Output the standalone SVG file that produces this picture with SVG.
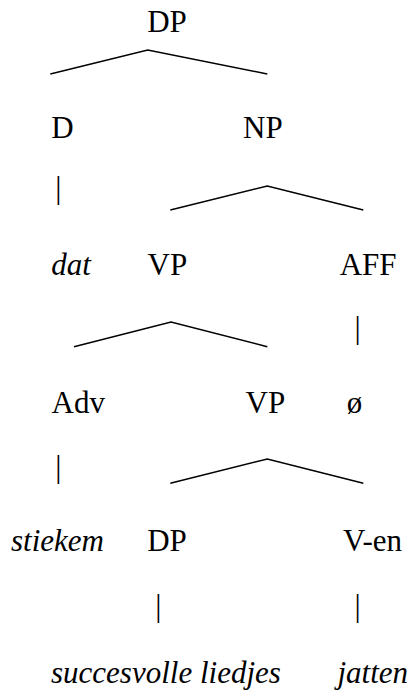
<svg xmlns="http://www.w3.org/2000/svg" width="414" height="696" viewBox="0 0 414 696">
<style>
text{font-family:"Liberation Serif","Times New Roman",serif;font-size:31px;fill:#000}
.i{font-style:italic}
.e{fill:none;stroke:#000;stroke-width:1.5}
</style>
<rect width="414" height="696" fill="#fff"/>
<g id="n-dp"><text x="147.2" y="31.7">DP</text></g>
<g id="n-d"><text x="51.2" y="137.7">D</text><text x="55.2" y="198.3">|</text></g>
<g id="n-np"><text x="243" y="137.7">NP</text></g>
<g id="n-dat"><text class="i" x="51.2" y="275">dat</text></g>
<g id="n-vp1"><text x="147.5" y="275">VP</text></g>
<g id="n-aff"><text x="339.7" y="275">AFF</text><text x="354.6" y="337.6">|</text></g>
<g id="n-adv"><text x="51.5" y="412.7">Adv</text><text x="55.2" y="476.5">|</text></g>
<g id="n-vp2"><text x="245.5" y="412.7">VP</text></g>
<g id="n-null"><text x="346.7" y="412.7">ø</text></g>
<g id="n-stiekem"><text class="i" x="11" y="550.7">stiekem</text></g>
<g id="n-dp2"><text x="147.2" y="550.7">DP</text><text x="155.2" y="615.8">|</text></g>
<g id="n-ven"><text x="343" y="550.7">V-en</text><text x="354.6" y="615.8">|</text></g>
<g id="n-liedjes"><text class="i" x="51" y="683.3">succesvolle liedjes</text></g>
<g id="n-jatten"><text class="i" x="337.5" y="683.3">jatten</text></g>
<g id="edges">
<polyline class="e" points="50.3,74 147.7,50 267.3,74"/>
<polyline class="e" points="170.3,210 267.3,186 363.3,210"/>
<polyline class="e" points="74,346.7 171,322 267.3,346.7"/>
<polyline class="e" points="170.3,483.3 267.3,459 363.3,483.3"/>
</g>
</svg>
